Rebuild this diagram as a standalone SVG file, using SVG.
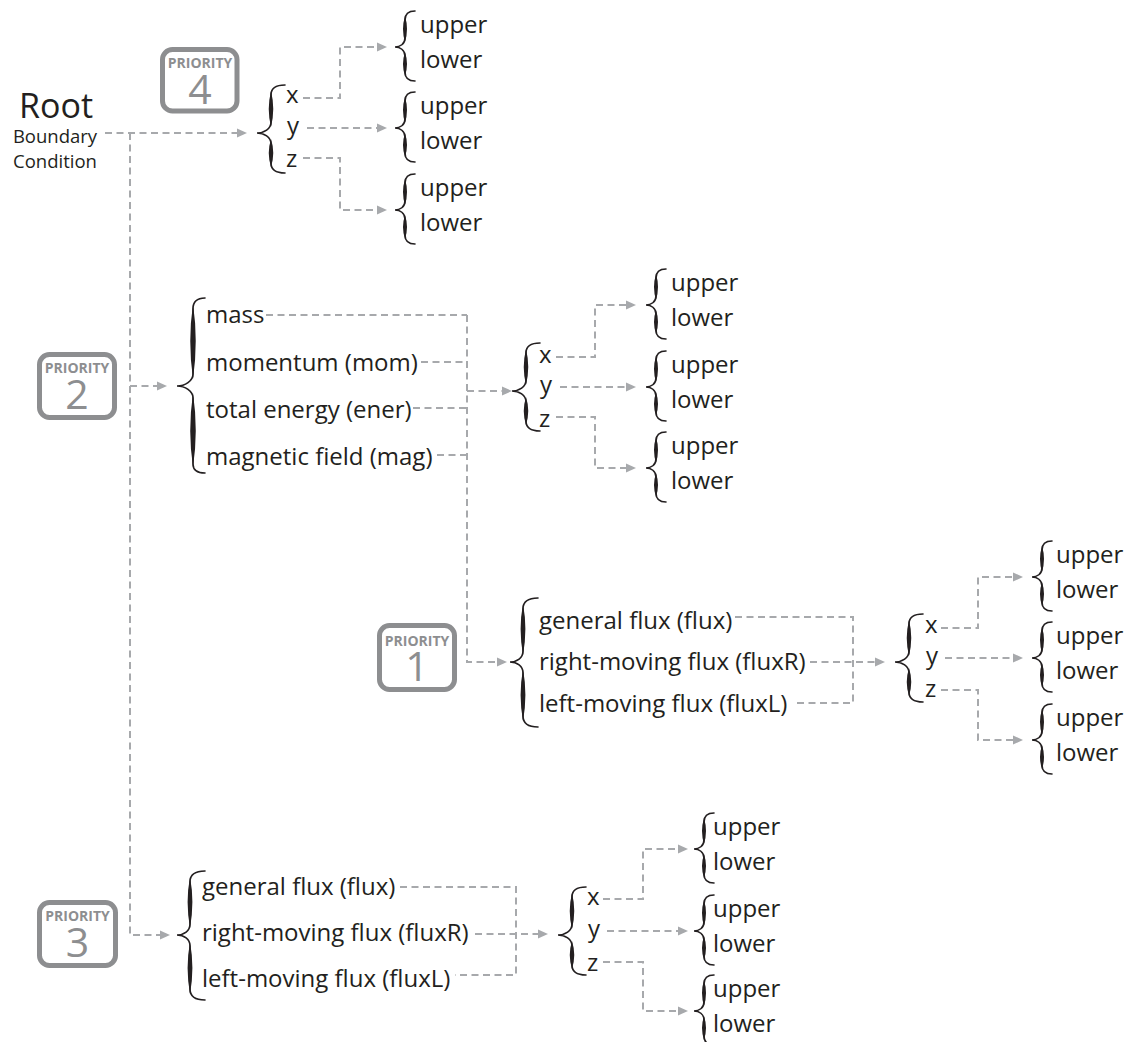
<svg xmlns="http://www.w3.org/2000/svg" xmlns:xlink="http://www.w3.org/1999/xlink" width="1132" height="1042" viewBox="0 0 1132 1042">
  <style>
    text { font-family: "Open Sans", "Liberation Sans", sans-serif; fill: #231f20; }
    .lbl { font-size: 24px; }
    .root { font-size: 34px; text-anchor: middle; }
    .sub { font-size: 18.5px; text-anchor: middle; }
    .prio rect { fill: #fff; stroke: #8d8e90; stroke-width: 5; }
    .prio .tag { font-size: 14px; font-weight: 700; fill: #8d8e90; text-anchor: middle; }
    .prio .num { font-size: 41px; font-weight: 400; fill: #8d8e90; text-anchor: middle; }
    .bs { fill: none; stroke: #231f20; stroke-width: 1.6; stroke-linecap: round; }
    .bf { fill: #231f20; }
    #connectors path { fill: none; stroke: #a7a9ac; stroke-width: 2; stroke-dasharray: 7 4.5; }
    #connectors path.arr { marker-end: url(#head); }
  </style>
  <defs>
    <marker id="head" viewBox="0 0 10 10" refX="0" refY="5" markerWidth="10" markerHeight="10" markerUnits="userSpaceOnUse" orient="auto">
      <path d="M0,0.5 L10,5 L0,9.5 Z" fill="#a7a9ac"/>
    </marker>
    <!-- curly braces, tip at local origin pointing left; thin outline plus thick tapered body -->
    <g id="brace-pair">
      <path class="bs" d="M20,-36 C14,-36 10,-33 10,-27 L10,-9 C10,-3 5,0 0,0 C5,0 10,3 10,9 L10,25 C10,31 14,34 20,34"/>
      <path class="bf" d="M10,-31 Q6,-18 10,-5 Q14,-18 10,-31Z M10,5 Q6,17 10,29 Q14,17 10,5Z"/>
    </g>
    <g id="brace-xyz">
      <path class="bs" d="M28,-48 C20,-48 14,-45 14,-38 L14,-11 C14,-4 7,0 0,0 C7,0 14,4 14,11 L14,30 C14,37 20,40 28,40"/>
      <path class="bf" d="M14,-42 Q9.5,-24 14,-6 Q18.5,-24 14,-42Z M14,6 Q9.5,20 14,34 Q18.5,20 14,6Z"/>
    </g>
    <g id="brace-flux">
      <path class="bs" d="M28,-64 C19,-64 13,-61 13,-53 L13,-11 C13,-4 7,0 0,0 C7,0 13,4 13,11 L13,54 C13,62 19,65 28,65"/>
      <path class="bf" d="M13,-58 Q8.2,-33 13,-7 Q17.8,-33 13,-58Z M13,7 Q8.2,33 13,59 Q17.8,33 13,7Z"/>
    </g>
    <g id="brace-big">
      <path class="bs" d="M28,-88 C21,-88 16,-85 16,-77 L16,-12 C16,-5 8,0 0,0 C8,0 16,5 16,12 L16,78 C16,85 21,87 28,87"/>
      <path class="bf" d="M16,-82 Q10.5,-45 16,-7 Q21.5,-45 16,-82Z M16,7 Q10.5,45 16,81 Q21.5,45 16,7Z"/>
    </g>
  </defs>

  <!-- dashed connectors -->
  <g id="connectors">
    <!-- root trunk -->
    <path class="arr" d="M105,133 H237"/>
    <path class="arr" d="M130,133 V935 H160"/>
    <path class="arr" d="M130,386 H157"/>
    <!-- priority 4 components -->
    <path class="arr" d="M303,98 H340 V47 H377"/>
    <path class="arr" d="M307,128 H377"/>
    <path class="arr" d="M303,158 H340 V210 H377"/>
    <!-- priority 2 variables -->
    <path d="M266,315 H467"/>
    <path d="M421,362 H467"/>
    <path d="M413,408 H467"/>
    <path d="M437,455 H467"/>
    <path class="arr" d="M467,315 V662 H497"/>
    <path class="arr" d="M467,391 H502"/>
    <path class="arr" d="M556,357 H595 V305 H626"/>
    <path class="arr" d="M560,387 H626"/>
    <path class="arr" d="M556,417 H595 V468 H626"/>
    <!-- priority 1 fluxes -->
    <path d="M735,617 H853 V703 H793"/>
    <path class="arr" d="M810,662 H875"/>
    <path class="arr" d="M941,628 H978 V577 H1013"/>
    <path class="arr" d="M945,658 H1013"/>
    <path class="arr" d="M941,690 H978 V740 H1013"/>
    <!-- priority 3 fluxes -->
    <path d="M400,887 H516 V975 H455"/>
    <path class="arr" d="M475,934 H538"/>
    <path class="arr" d="M603,899 H643 V849 H678"/>
    <path class="arr" d="M607,931 H678"/>
    <path class="arr" d="M603,962 H643 V1011 H678"/>
  </g>

  <g id="root">
    <text class="root" x="56" y="118">Root</text>
    <text class="sub" x="55" y="143">Boundary</text>
    <text class="sub" x="55" y="168">Condition</text>
  </g>

  <!-- priority badges -->
  <g id="priority-4" class="prio">
    <rect x="162.5" y="49.5" width="74.5" height="61.5" rx="10"/>
    <text class="tag" x="200" y="68">PRIORITY</text>
    <text class="num" x="200" y="104">4</text>
  </g>
  <g id="priority-2" class="prio">
    <rect x="39.5" y="354.5" width="75" height="63" rx="10"/>
    <text class="tag" x="77" y="373">PRIORITY</text>
    <text class="num" x="77" y="409">2</text>
  </g>
  <g id="priority-1" class="prio">
    <rect x="379.5" y="625.5" width="75" height="64" rx="10"/>
    <text class="tag" x="417" y="646">PRIORITY</text>
    <text class="num" x="417" y="681">1</text>
  </g>
  <g id="priority-3" class="prio">
    <rect x="39.5" y="902.5" width="76" height="63" rx="10"/>
    <text class="tag" x="77.5" y="921">PRIORITY</text>
    <text class="num" x="77.5" y="957">3</text>
  </g>

  <!-- priority 4: direction split of the root condition -->
  <g id="p4-xyz">
    <use href="#brace-xyz" x="257" y="133"/>
    <text class="lbl" x="286" y="103">x</text>
    <text class="lbl" x="287" y="134">y</text>
    <text class="lbl" x="286" y="167">z</text>
  </g>
  <g id="p4-x">
    <use href="#brace-pair" x="395" y="47"/>
    <text class="lbl" x="420" y="33">upper</text>
    <text class="lbl" x="420" y="68">lower</text>
  </g>
  <g id="p4-y">
    <use href="#brace-pair" x="395" y="128"/>
    <text class="lbl" x="420" y="114">upper</text>
    <text class="lbl" x="420" y="149">lower</text>
  </g>
  <g id="p4-z">
    <use href="#brace-pair" x="395" y="210"/>
    <text class="lbl" x="420" y="196">upper</text>
    <text class="lbl" x="420" y="231">lower</text>
  </g>

  <!-- priority 2: conserved variables -->
  <g id="p2-vars">
    <use href="#brace-big" x="177" y="386"/>
    <text class="lbl" x="206" y="323">mass</text>
    <text class="lbl" x="206" y="371">momentum (mom)</text>
    <text class="lbl" x="206" y="418">total energy (ener)</text>
    <text class="lbl" x="206" y="465">magnetic field (mag)</text>
  </g>
  <g id="p2-xyz">
    <use href="#brace-xyz" x="512" y="391"/>
    <text class="lbl" x="539" y="363">x</text>
    <text class="lbl" x="540" y="393">y</text>
    <text class="lbl" x="539" y="427">z</text>
  </g>
  <g id="p2-x">
    <use href="#brace-pair" x="646" y="305"/>
    <text class="lbl" x="671" y="291">upper</text>
    <text class="lbl" x="671" y="326">lower</text>
  </g>
  <g id="p2-y">
    <use href="#brace-pair" x="646" y="387"/>
    <text class="lbl" x="671" y="373">upper</text>
    <text class="lbl" x="671" y="408">lower</text>
  </g>
  <g id="p2-z">
    <use href="#brace-pair" x="646" y="468"/>
    <text class="lbl" x="671" y="454">upper</text>
    <text class="lbl" x="671" y="489">lower</text>
  </g>

  <!-- priority 1: fluxes under the variables -->
  <g id="p1-flux">
    <use href="#brace-flux" x="510" y="662"/>
    <text class="lbl" x="539" y="629">general flux (flux)</text>
    <text class="lbl" x="539" y="670">right-moving flux (fluxR)</text>
    <text class="lbl" x="539" y="712">left-moving flux (fluxL)</text>
  </g>
  <g id="p1-xyz">
    <use href="#brace-xyz" x="895" y="662"/>
    <text class="lbl" x="925" y="633">x</text>
    <text class="lbl" x="926" y="664">y</text>
    <text class="lbl" x="925" y="697">z</text>
  </g>
  <g id="p1-x">
    <use href="#brace-pair" x="1032" y="577"/>
    <text class="lbl" x="1056" y="563">upper</text>
    <text class="lbl" x="1056" y="598">lower</text>
  </g>
  <g id="p1-y">
    <use href="#brace-pair" x="1032" y="658"/>
    <text class="lbl" x="1056" y="644">upper</text>
    <text class="lbl" x="1056" y="679">lower</text>
  </g>
  <g id="p1-z">
    <use href="#brace-pair" x="1032" y="740"/>
    <text class="lbl" x="1056" y="726">upper</text>
    <text class="lbl" x="1056" y="761">lower</text>
  </g>

  <!-- priority 3: fluxes directly under the root -->
  <g id="p3-flux">
    <use href="#brace-flux" x="177" y="935"/>
    <text class="lbl" x="202" y="895">general flux (flux)</text>
    <text class="lbl" x="202" y="941">right-moving flux (fluxR)</text>
    <text class="lbl" x="202" y="987">left-moving flux (fluxL)</text>
  </g>
  <g id="p3-xyz">
    <use href="#brace-xyz" x="558" y="935"/>
    <text class="lbl" x="587" y="905">x</text>
    <text class="lbl" x="588" y="937">y</text>
    <text class="lbl" x="587" y="971">z</text>
  </g>
  <g id="p3-x">
    <use href="#brace-pair" x="694" y="849"/>
    <text class="lbl" x="713" y="835">upper</text>
    <text class="lbl" x="713" y="870">lower</text>
  </g>
  <g id="p3-y">
    <use href="#brace-pair" x="694" y="931"/>
    <text class="lbl" x="713" y="917">upper</text>
    <text class="lbl" x="713" y="952">lower</text>
  </g>
  <g id="p3-z">
    <use href="#brace-pair" x="694" y="1011"/>
    <text class="lbl" x="713" y="997">upper</text>
    <text class="lbl" x="713" y="1032">lower</text>
  </g>
</svg>
